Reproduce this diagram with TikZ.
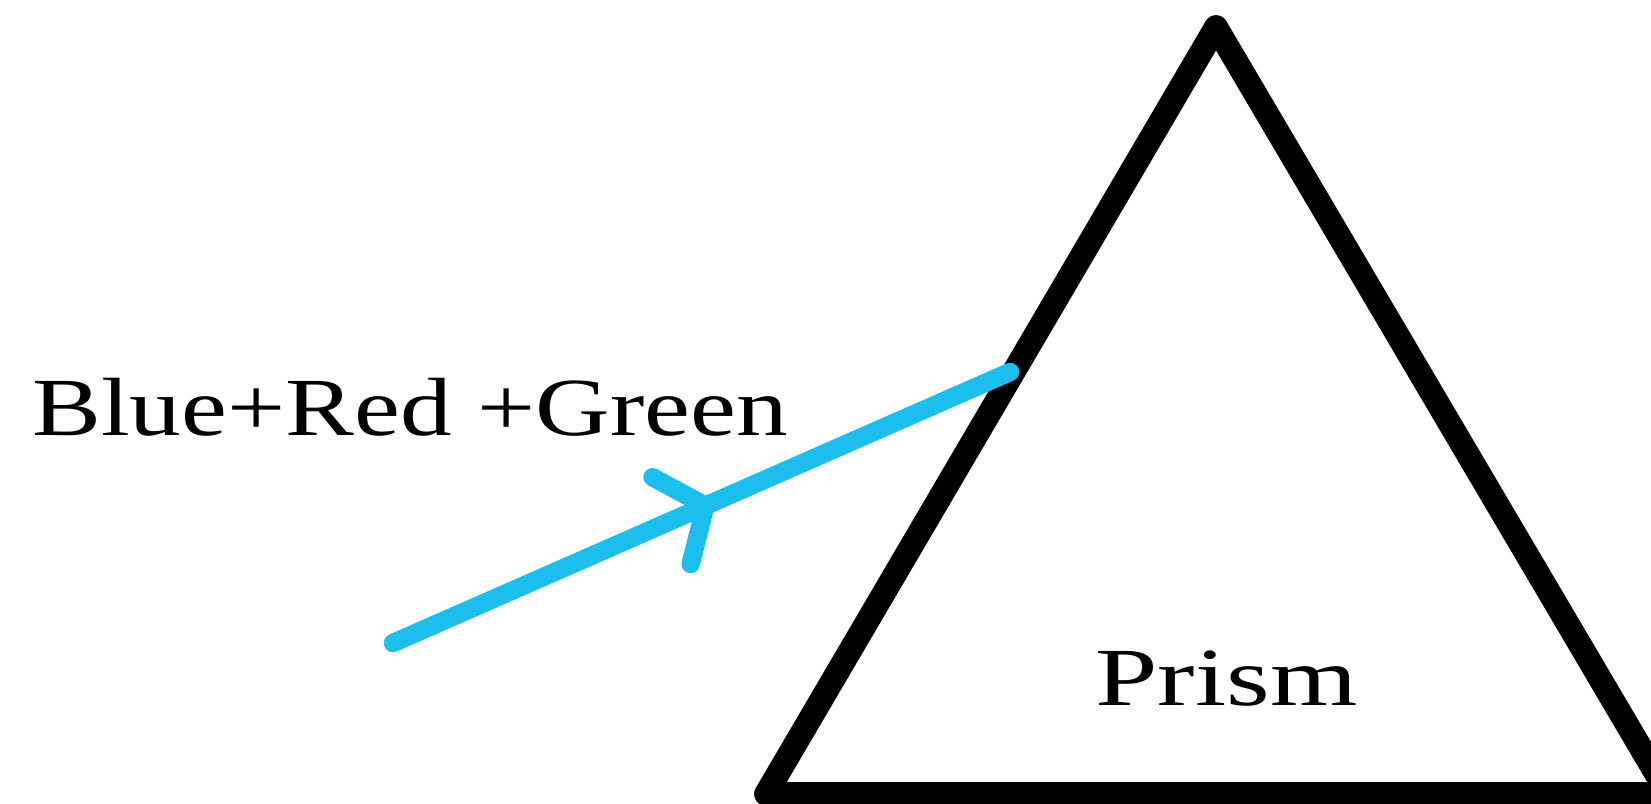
\documentclass[tikz,border=0pt]{standalone}
\usepackage{fontspec}
\newfontfamily\mixfont[FakeStretch=1.25]{Liberation Serif}
\newfontfamily\prismfont[FakeStretch=1.36]{Liberation Serif}
\usepackage{tikz}
\usetikzlibrary{arrows.meta, decorations.markings}

\definecolor{raycyan}{RGB}{28,190,238}

\begin{document}
\begin{tikzpicture}[
  x=0.02cm, y=-0.02cm,
  %%── Styles ───────────────────────────────────────────────────────────────
  prismside/.style={draw=black, line width=13.5pt, line join=round},
  ray/.style={
    draw=raycyan, line width=10.5pt, line cap=round,
    postaction={decorate},
    decoration={markings, mark=at position 0.52 with {
      \arrow[raycyan, line width=10.5pt]{Straight Barb[length=21pt, width=54pt, round]}}}
  },
  lbl/.style={inner sep=0pt, anchor=base west},
]

%%── Page (1651 x 804) ──────────────────────────────────────────────────
\useasboundingbox (0,0) rectangle (1651,804);

%%── Prism corners ──────────────────────────────────────────────────────
\coordinate (apex) at (1216, 27);
\coordinate (bl)   at ( 766,794);
\coordinate (br)   at (1668,794);
\draw[prismside] (apex) -- (bl) -- (br) -- cycle;
\node[lbl, font=\prismfont\fontsize{47}{56}\selectfont] (prismlbl)
    at (1095,705) {Prism};

%%── Incident white light ───────────────────────────────────────────────
\node[lbl, font=\mixfont\fontsize{47}{56}\selectfont] (mixlbl)
    at (32,436) {Blue+Red +Green};
\coordinate (src) at ( 393,643);
\coordinate (hit) at (1010,372);
\draw[ray] (src) -- (hit);

\end{tikzpicture}
\end{document}
